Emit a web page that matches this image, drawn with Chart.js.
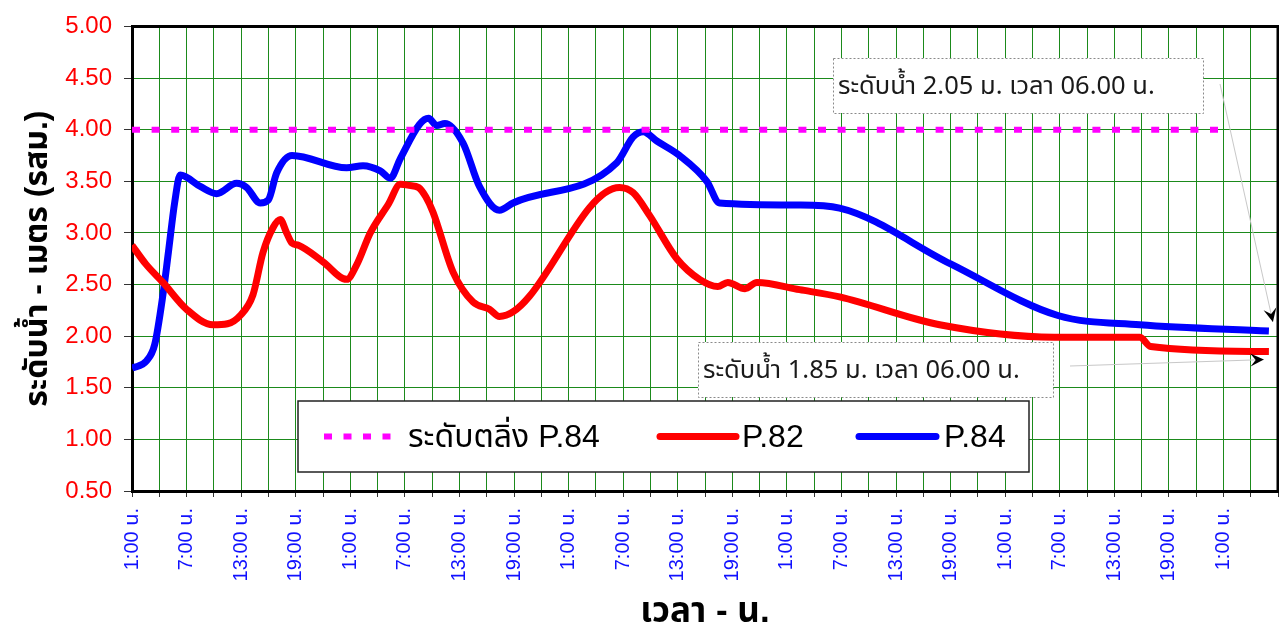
<!DOCTYPE html>
<html>
<head>
<meta charset="utf-8">
<script src="https://cdn.jsdelivr.net/npm/chart.js@4.4.1/dist/chart.umd.min.js"></script>
<style>
  html, body { margin: 0; padding: 0; background: #fff; }
  #wrap { width: 1279px; height: 630px; }
</style>
</head>
<body>
<div id="wrap"><canvas id="chart" width="1279" height="630"></canvas></div>
<script>
// hours counted from 1:00 on the first day, levels in metres (MSL)
var p82Hours = [0, 1.5, 3.4, 6, 8.9, 10.5, 11.9, 13.3, 14.4, 15.5, 16.3, 17.0, 17.6, 18.3, 21, 23.6, 24.7, 26.2, 28.2, 29.5, 30.5, 31.5, 32.3, 33.1, 35.3, 37.5, 39.3, 40.4, 53.6, 55.1, 56.9, 59.9, 62.4, 64.4, 65.5, 67.4, 68.7, 73.4, 77.8, 88.8, 101.4, 110.8, 112, 125];
var p82Level = [2.88, 2.70, 2.52, 2.26, 2.11, 2.12, 2.20, 2.40, 2.81, 3.05, 3.13, 3.00, 2.90, 2.88, 2.72, 2.55, 2.69, 3.00, 3.28, 3.47, 3.46, 3.44, 3.35, 3.20, 2.62, 2.33, 2.26, 2.19, 3.44, 3.39, 3.17, 2.75, 2.55, 2.48, 2.52, 2.46, 2.52, 2.45, 2.38, 2.11, 1.99, 1.99, 1.90, 1.85];

var p84Hours = [0, 1.6, 2.5, 3.4, 4.0, 4.7, 5.3, 7.5, 9.3, 11.5, 12.6, 14.1, 15.0, 15.9, 17.6, 23.6, 25.4, 27.3, 28.4, 29.5, 31.6, 32.6, 33.5, 34.4, 36.4, 38.2, 40.4, 41.9, 53.3, 55.1, 56.2, 57.7, 60.2, 63.2, 64.6, 73.4, 77.8, 90, 101.8, 110.8, 125];
var p84Level = [1.69, 1.76, 1.92, 2.40, 2.81, 3.30, 3.56, 3.45, 3.38, 3.48, 3.44, 3.29, 3.32, 3.58, 3.75, 3.63, 3.65, 3.60, 3.53, 3.72, 4.05, 4.11, 4.04, 4.06, 3.87, 3.45, 3.22, 3.29, 3.68, 3.93, 3.98, 3.89, 3.75, 3.50, 3.29, 3.27, 3.24, 2.70, 2.20, 2.11, 2.05];

var bankHours = [0, 120];
var bankLevel = [4.00, 4.00];

var seriesNames = ['ระดับตลิ่ง P.84', 'P.82', 'P.84'];
var noteTexts = ['ระดับน้ำ 2.05 ม. เวลา 06.00 น.', 'ระดับน้ำ 1.85 ม. เวลา 06.00 น.'];

var THAI = "'Liberation Sans', Arial, 'Noto Sans Thai', sans-serif";

function pairs(xs, ys) {
    return xs.map(function (x, i) { return {x: x, y: ys[i]}; });
}

function hourLabel(h) {
    return ((1 + h) % 24) + ':00 น.';
}

function arrow(ctx, x1, y1, x2, y2) {
    ctx.strokeStyle = '#c8c8c8';
    ctx.lineWidth = 1;
    ctx.setLineDash([]);
    ctx.beginPath();
    ctx.moveTo(x1, y1);
    ctx.lineTo(x2, y2);
    ctx.stroke();
    var ang = Math.atan2(y2 - y1, x2 - x1), len = 15;
    ctx.fillStyle = '#000';
    ctx.beginPath();
    ctx.moveTo(x2, y2);
    ctx.lineTo(x2 - len * Math.cos(ang - 0.45), y2 - len * Math.sin(ang - 0.45));
    ctx.lineTo(x2 - len * 0.55 * Math.cos(ang), y2 - len * 0.55 * Math.sin(ang));
    ctx.lineTo(x2 - len * Math.cos(ang + 0.45), y2 - len * Math.sin(ang + 0.45));
    ctx.closePath();
    ctx.fill();
}

function noteBox(ctx, x, y, w, h, text) {
    ctx.fillStyle = '#fff';
    ctx.fillRect(x, y, w, h);
    ctx.strokeStyle = '#8a8a8a';
    ctx.lineWidth = 1;
    ctx.setLineDash([2, 2]);
    ctx.strokeRect(x + 0.5, y + 0.5, w, h);
    ctx.setLineDash([]);
    ctx.fillStyle = '#1a1a1a';
    ctx.font = "25.5px 'Noto Sans', 'Noto Sans Thai', sans-serif";
    ctx.textAlign = 'left';
    ctx.textBaseline = 'middle';
    ctx.fillText(text, x + 5, y + h / 2 + 1);
}

var decorations = {
    id: 'decorations',
    beforeDraw: function (chart) {
        var ctx = chart.ctx;
        ctx.save();
        ctx.fillStyle = '#fff';
        ctx.fillRect(0, 0, chart.width, chart.height);
        ctx.restore();
    },
    afterDraw: function (chart) {
        var ctx = chart.ctx, a = chart.chartArea;
        var xs = chart.scales.x, ys = chart.scales.y;
        ctx.save();

        // frame top/right
        ctx.strokeStyle = '#000';
        ctx.lineWidth = 3;
        ctx.beginPath();
        ctx.moveTo(a.left, a.top);
        ctx.lineTo(a.right, a.top);
        ctx.lineTo(a.right, a.bottom);
        ctx.stroke();

        // legend box
        var lx = 298, ly = 401, lw = 731, lh = 71, cy = ly + lh / 2;
        ctx.fillStyle = '#fff';
        ctx.fillRect(lx, ly, lw, lh);
        ctx.strokeStyle = '#222';
        ctx.lineWidth = 1.5;
        ctx.strokeRect(lx, ly, lw, lh);

        ctx.lineWidth = 6;
        ctx.strokeStyle = '#ff00ff';
        ctx.setLineDash([8, 11.5]);
        ctx.beginPath(); ctx.moveTo(324, cy); ctx.lineTo(398, cy); ctx.stroke();
        ctx.setLineDash([]);
        ctx.lineCap = 'round';
        ctx.lineWidth = 7;
        ctx.strokeStyle = '#ff0000';
        ctx.beginPath(); ctx.moveTo(660, cy); ctx.lineTo(736, cy); ctx.stroke();
        ctx.strokeStyle = '#0000ff';
        ctx.beginPath(); ctx.moveTo(859, cy); ctx.lineTo(936, cy); ctx.stroke();
        ctx.lineCap = 'butt';

        ctx.fillStyle = '#000';
        ctx.font = '32px ' + THAI;
        ctx.textAlign = 'left';
        ctx.textBaseline = 'middle';
        ctx.fillText(seriesNames[0], 408, cy + 2);
        ctx.fillText(seriesNames[1], 742, cy + 2);
        ctx.fillText(seriesNames[2], 944, cy + 2);

        // notes for the last readings
        var endX = xs.getPixelForValue(p84Hours[p84Hours.length - 1]);
        var blueY = ys.getPixelForValue(p84Level[p84Level.length - 1]);
        var redY = ys.getPixelForValue(p82Level[p82Level.length - 1]);

        arrow(ctx, 1220, 84, endX + 4, blueY - 9);
        arrow(ctx, 1070, 366, endX - 5, redY + 8);

        noteBox(ctx, 833, 58, 370, 55, noteTexts[0]);
        noteBox(ctx, 698, 342, 355, 55, noteTexts[1]);

        ctx.restore();
    }
};

var ctx = document.getElementById('chart');

var myChart = new Chart(ctx, {
    type: 'line',
    data: {
        datasets: [
            {
                label: seriesNames[0],
                data: pairs(bankHours, bankLevel),
                borderColor: '#ff00ff',
                borderWidth: 6,
                borderDash: [8, 11.6],
                pointRadius: 0,
                fill: false
            },
            {
                label: seriesNames[1],
                data: pairs(p82Hours, p82Level),
                borderColor: '#ff0000',
                borderWidth: 7,
                cubicInterpolationMode: 'monotone',
                pointRadius: 0,
                fill: false
            },
            {
                label: seriesNames[2],
                data: pairs(p84Hours, p84Level),
                borderColor: '#0000ff',
                borderWidth: 7,
                cubicInterpolationMode: 'monotone',
                pointRadius: 0,
                fill: false
            }
        ]
    },
    options: {
        responsive: false,
        animation: false,
        layout: {padding: {top: 22, right: 1, left: 0, bottom: 0}},
        plugins: {
            legend: {display: false},
            tooltip: {enabled: false}
        },
        scales: {
            x: {
                type: 'linear',
                min: 0,
                max: 126,
                afterFit: function (scale) {
                    scale.height = 139;
                    scale.paddingLeft = 0;
                    scale.paddingRight = 0;
                },
                border: {display: true, color: '#000', width: 3},
                grid: {color: '#1b8a1b', lineWidth: 1, tickColor: '#333', tickLength: 6},
                ticks: {
                    stepSize: 3,
                    autoSkip: false,
                    minRotation: 90,
                    maxRotation: 90,
                    padding: 11,
                    color: '#1010ff',
                    font: {family: THAI, size: 20},
                    callback: function (v) { return (v % 6 === 0 && v < 126) ? hourLabel(v) : ''; }
                },
                title: {
                    display: true,
                    text: 'เวลา - น.',
                    color: '#000',
                    font: {family: THAI, size: 35, weight: 'bold', lineHeight: 1.0},
                    padding: {top: 0, bottom: 0}
                }
            },
            y: {
                min: 0.5,
                max: 5,
                afterFit: function (scale) { scale.width = 132; },
                border: {display: true, color: '#000', width: 3},
                grid: {color: '#1b8a1b', lineWidth: 1, tickColor: '#333', tickLength: 8},
                ticks: {
                    stepSize: 0.5,
                    padding: 12,
                    color: '#ff0000',
                    font: {family: THAI, size: 24},
                    callback: function (v) { return v.toFixed(2); }
                },
                title: {
                    display: true,
                    text: 'ระดับน้ำ - เมตร (รสม.)',
                    color: '#000',
                    font: {family: THAI, size: 32, weight: 'bold', lineHeight: 1.2},
                    padding: {top: 19, bottom: 0}
                }
            }
        }
    },
    plugins: [decorations]
});
</script>
</body>
</html>
